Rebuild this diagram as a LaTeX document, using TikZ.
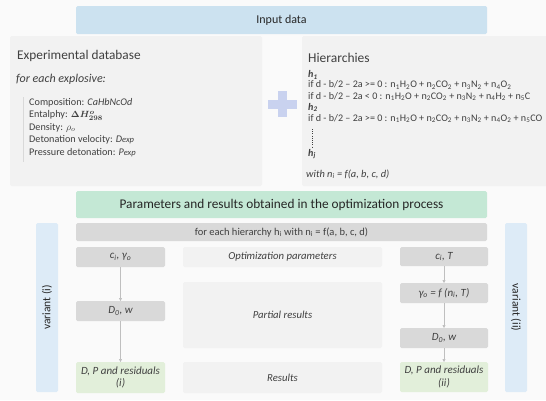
\documentclass[tikz,border=0pt]{standalone}
\usepackage{bm}
\usepackage{fontspec}
\setmainfont{Carlito}
\usetikzlibrary{arrows.meta}
\definecolor{bgc}{HTML}{FAFAFA}
\definecolor{panel}{HTML}{F2F2F2}
\definecolor{inblue}{HTML}{CCE2F0}
\definecolor{hgreen}{HTML}{C4E8D5}
\definecolor{rowgray}{HTML}{D9D9D9}
\definecolor{resgreen}{HTML}{E2EFDA}
\definecolor{varblue}{HTML}{DDEBF7}
\definecolor{plusc}{HTML}{C9D2EF}
\definecolor{txt}{HTML}{404040}
\definecolor{dark}{HTML}{262626}
\definecolor{arr}{HTML}{BFBFBF}
\newcommand{\bx}[7]{%
 \pgfmathsetmacro\bxw{#4-#2}\pgfmathsetmacro\bxh{#5-#3}%
 \node[#6, minimum width=\bxw pt, minimum height=\bxh pt] (#1) at ({(#2+#4)/2},{(#3+#5)/2}) {#7};}
\newcommand{\lsub}[1]{\textsubscript{#1}}
\newcommand{\enth}{$\bm{\Delta H^{o}_{298}}$}
\begin{document}
\begin{tikzpicture}[x=1pt,y=-1pt,
  boxbase/.style={inner sep=0pt, outer sep=0pt, rounded corners=1.5pt, text=txt, align=center},
  inbox/.style={boxbase, fill=inblue, text=dark, font=\fontsize{12}{14}\selectfont},
  greenhead/.style={boxbase, fill=hgreen, text=dark, font=\fontsize{13.3}{15}\selectfont},
  panelbox/.style={boxbase, fill=panel},
  rowbox/.style={boxbase, fill=rowgray, font=\fontsize{10.5}{12}\selectfont},
  graybox/.style={boxbase, fill=rowgray, font=\fontsize{11}{12}\selectfont\itshape},
  resbox/.style={boxbase, fill=resgreen, font=\fontsize{11}{12.5}\selectfont\itshape},
  midbox/.style={boxbase, fill=panel, font=\fontsize{10.7}{12}\selectfont\itshape},
  varbox/.style={boxbase, fill=varblue},
  vartext/.style={inner sep=0pt, text=dark, font=\fontsize{11.5}{13}\selectfont},
  ptitle/.style={inner sep=0pt, anchor=west, text=txt, font=\fontsize{13.3}{15}\selectfont},
  item/.style={inner sep=0pt, anchor=west, text=txt, font=\fontsize{10.2}{11}\selectfont},
  eq/.style={inner sep=0pt, anchor=west, text=txt, font=\fontsize{10.1}{11}\selectfont},
  flow/.style={draw=arr, line width=0.6pt, -{Triangle[length=3pt,width=3pt]}}
]
\useasboundingbox (0,0) rectangle (546,400);
\fill[bgc] (0,0) rectangle (546,400);

% top
\bx{input}{76}{6}{487}{34}{inbox}{Input data}
\bx{expdb}{10}{36}{262}{186}{panelbox}{}
\bx{hier}{302}{36}{548}{186}{panelbox}{}

% plus sign
\fill[plusc] (278,91) rectangle (287,117);
\fill[plusc] (268,99.5) rectangle (297,108.5);
\coordinate (plus) at (282.5,104);

% left panel text
\node[ptitle] (t1) at (17,56) {Experimental database};
\node[ptitle, font=\fontsize{12}{13}\selectfont\itshape] (t2) at (16,79) {for each explosive:};
\draw[draw=rowgray, line width=0.6pt] (23,97) -- (23,162);
\node[item] (i1) at (29,103) {Composition: \textit{CaHbNcOd}};
\node[item] (i2) at (29,115.5) {Entalphy: {\fontsize{9.5}{10}\selectfont\enth}};
\node[item] (i3) at (29,127.5) {Density: $\rho_o$};
\node[item] (i4) at (29,140) {Detonation velocity: \textit{D{\fontsize{8.5}{9}\selectfont exp}}};
\node[item] (i5) at (29,153) {Pressure detonation: \textit{P{\fontsize{8.5}{9}\selectfont exp}}};

% right panel text
\node[ptitle, font=\fontsize{13.5}{15}\selectfont] (t3) at (308,58) {Hierarchies};
\node[eq] (h1) at (308,75) {\textbf{\textit{h\lsub{1}}}};
\node[eq] (e1) at (308,85) {if d - b/2 – 2a >= 0 : n\lsub{1}H\lsub{2}O + n\lsub{2}CO\lsub{2} + n\lsub{3}N\lsub{2} + n\lsub{4}O\lsub{2}};
\node[eq] (e2) at (308,96.5) {if d - b/2 – 2a < 0 : n\lsub{1}H\lsub{2}O + n\lsub{2}CO\lsub{2} + n\lsub{3}N\lsub{2} + n\lsub{4}H\lsub{2} + n\lsub{5}C};
\node[eq] (h2) at (308,107.5) {\textbf{\textit{h\lsub{2}}}};
\node[eq] (e3) at (308,118.5) {if d - b/2 – 2a >= 0 : n\lsub{1}H\lsub{2}O + n\lsub{2}CO\lsub{2} + n\lsub{3}N\lsub{2} + n\lsub{4}O\lsub{2} + n\lsub{5}CO};
\coordinate (d1) at (312.5,129);
\coordinate (d2) at (312.5,147);
\draw[txt, line width=0.7pt, dash pattern=on 0.8pt off 1.4pt] (d1) -- (d2);
\node[eq] (hj) at (308,154) {\textbf{\textit{h\lsub{j}}}};
\node[eq, font=\fontsize{10.4}{11}\selectfont\itshape] (with) at (306,174) {with n\lsub{i} = f(a, b, c, d)};

% bottom section
\bx{params}{76}{191}{487}{218}{greenhead}{Parameters and results obtained in the optimization process}
\bx{row}{76}{223}{487}{241}{rowbox}{for each hierarchy h\lsub{i} with n\lsub{i} = f(a, b, c, d)}
\bx{var1}{36}{223}{58}{392}{varbox}{}
\bx{var2}{505}{223}{527}{392}{varbox}{}
\node[vartext, rotate=90] (v1t) at (var1) {variant (i)};
\node[vartext, rotate=-90] (v2t) at (var2) {variant (ii)};

% left column
\bx{a1}{76}{247}{165}{267}{graybox}{\textit{c\lsub{i}}, \textit{γ\lsub{o}}}
\bx{a2}{76}{301}{165}{321}{graybox}{\textit{D\lsub{0}}, \textit{w}}
\bx{a3}{76}{362}{165}{393}{resbox}{D, P and residuals\\(i)}

% middle column
\bx{m1}{183}{247}{382}{267}{midbox}{Optimization parameters}
\bx{m2}{183}{282}{382}{348}{midbox}{Partial results}
\bx{m3}{183}{362}{382}{393}{midbox}{Results}

% right column
\bx{b1}{400}{247}{488}{266}{graybox}{\textit{c\lsub{i}}, \textit{T}}
\bx{b2}{400}{283}{488}{303}{graybox}{\textit{γ\lsub{o}} = \textit{f} (\textit{n\lsub{i}}, \textit{T})}
\bx{b3}{400}{328}{488}{348}{graybox}{\textit{D\lsub{0}}, \textit{w}}
\bx{b4}{400}{362}{488}{392}{resbox}{D, P and residuals\\(ii)}

% arrows
\draw[flow] (a1) -- (a2);
\draw[flow] (a2) -- (a3);
\draw[flow] (b1) -- (b2);
\draw[flow] (b2) -- (b3);
\draw[flow] (b3) -- (b4);
\end{tikzpicture}
\end{document}
